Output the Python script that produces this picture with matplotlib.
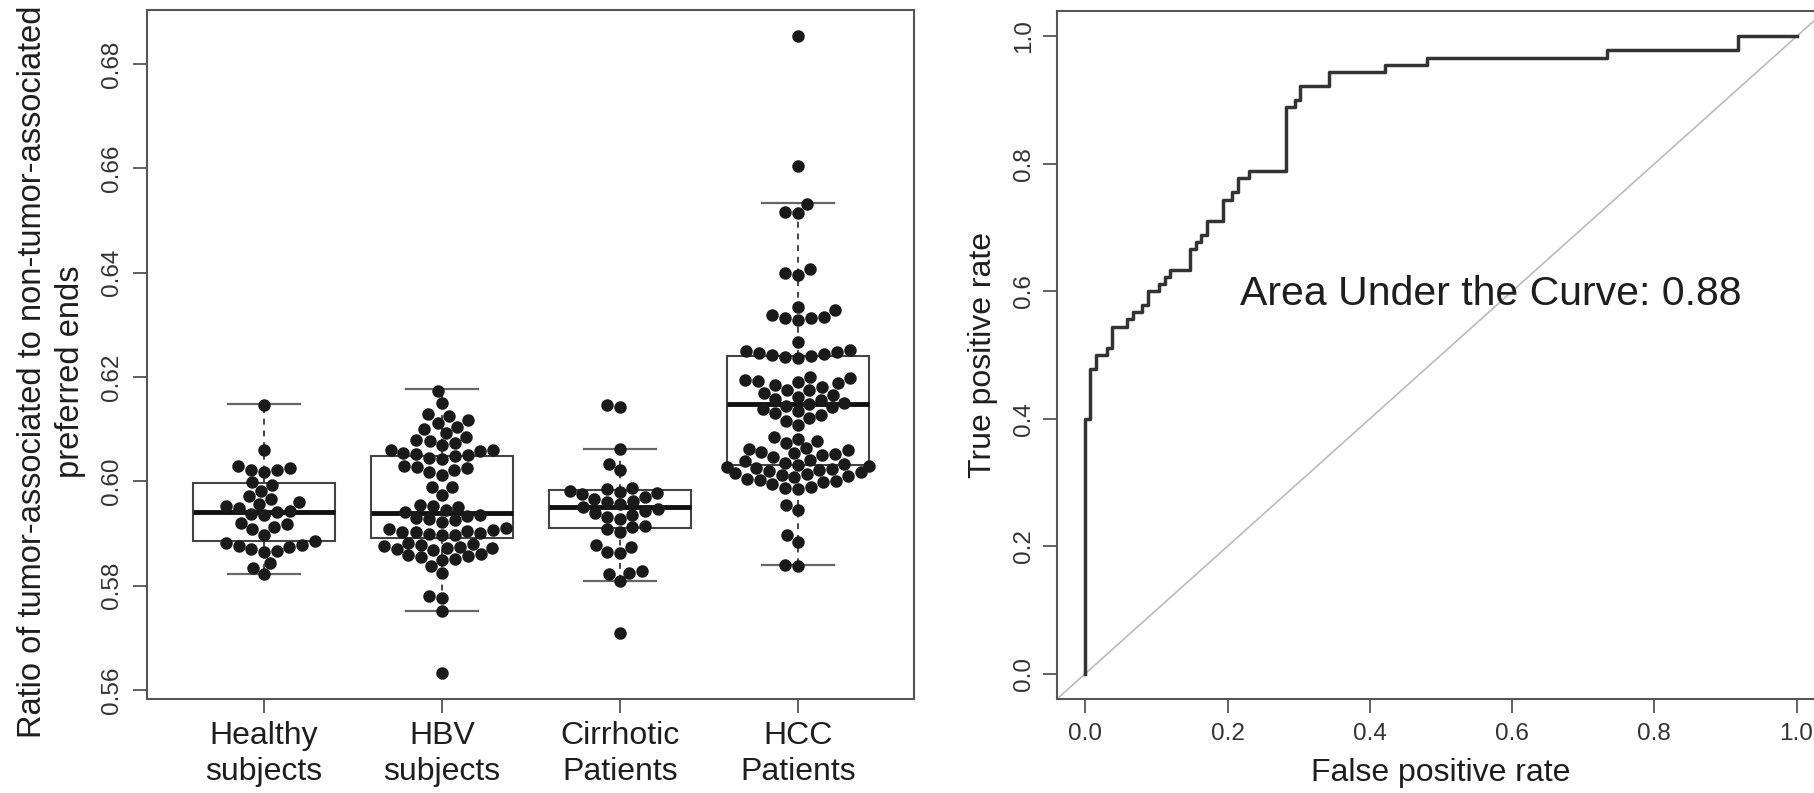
import matplotlib
matplotlib.use("Agg")
import matplotlib.pyplot as plt
import pandas as pd
import seaborn as sns

plt.rcParams['font.family'] = ['Liberation Sans', 'DejaVu Sans']

# -------------------------------------------------
# DATA
# -------------------------------------------------
group_names = ["Healthy\nsubjects", "HBV\nsubjects", "Cirrhotic\nPatients", "HCC\nPatients"]

healthy = [0.6146, 0.6060, 0.6029, 0.6022, 0.6018, 0.6021, 0.6026, 0.5998, 0.5993,
           0.5981, 0.5972, 0.5966, 0.5960, 0.5957, 0.5952, 0.5948, 0.5944, 0.5941,
           0.5938, 0.5935, 0.5921, 0.5918, 0.5912, 0.5908, 0.5897, 0.5885, 0.5882,
           0.5878, 0.5876, 0.5874, 0.5870, 0.5866, 0.5864, 0.5843, 0.5834, 0.5822]

hbv = [0.6173, 0.6150, 0.6129, 0.6125, 0.6118, 0.6112, 0.6105, 0.6100, 0.6093, 0.6085,
       0.6080, 0.6078, 0.6073, 0.6070, 0.6060, 0.6060, 0.6058, 0.6055, 0.6053, 0.6050,
       0.6048, 0.6045, 0.6043, 0.6030, 0.6028, 0.6025, 0.6022, 0.6018, 0.6012, 0.5990,
       0.5989, 0.5974, 0.5955, 0.5953, 0.5950, 0.5945, 0.5942,
       0.5935, 0.5933, 0.5930, 0.5928, 0.5925, 0.5922, 0.5910, 0.5908, 0.5906, 0.5905,
       0.5903, 0.5902, 0.5900, 0.5899, 0.5898, 0.5897, 0.5882, 0.5880, 0.5878, 0.5876,
       0.5875, 0.5873, 0.5872, 0.5870, 0.5868, 0.5860, 0.5858, 0.5856, 0.5854, 0.5852,
       0.5850, 0.5838, 0.5825, 0.5780, 0.5776, 0.5751, 0.5633]

cirrhotic = [0.6147, 0.6143, 0.6062, 0.6034, 0.6022, 0.5988, 0.5985, 0.5982, 0.5980,
             0.5978, 0.5975, 0.5970, 0.5966, 0.5962, 0.5960, 0.5956, 0.5950, 0.5946,
             0.5943, 0.5940, 0.5936, 0.5932, 0.5928, 0.5915, 0.5912, 0.5908, 0.5902,
             0.5878, 0.5875, 0.5865, 0.5862, 0.5828, 0.5825, 0.5822, 0.5808, 0.5710]

hcc = [0.6854, 0.6605, 0.6532, 0.6516, 0.6514, 0.6407, 0.6400, 0.6396, 0.6334, 0.6329,
       0.6318, 0.6315, 0.6314, 0.6313, 0.6310, 0.6267, 0.6252, 0.6250, 0.6248, 0.6246,
       0.6244, 0.6242, 0.6240, 0.6238, 0.6237, 0.6200, 0.6198, 0.6195, 0.6192, 0.6190,
       0.6188, 0.6185, 0.6180, 0.6176, 0.6175, 0.6170, 0.6166, 0.6162, 0.6158, 0.6156,
       0.6150, 0.6148, 0.6145, 0.6142, 0.6138, 0.6135, 0.6131, 0.6128, 0.6122, 0.6116,
       0.6108, 0.6085, 0.6082, 0.6078, 0.6073, 0.6064, 0.6062, 0.6060, 0.6057, 0.6055,
       0.6052, 0.6050, 0.6047, 0.6040, 0.6038, 0.6036, 0.6034, 0.6032, 0.6030, 0.6028,
       0.6026, 0.6024, 0.6022, 0.6020, 0.6018, 0.6016, 0.6014, 0.6012, 0.6010, 0.6008,
       0.6005, 0.6003, 0.6000, 0.5998, 0.5995, 0.5990, 0.5988, 0.5985, 0.5955, 0.5945,
       0.5898, 0.5884, 0.5840, 0.5838]

# box statistics as drawn (low whisker, Q1, median, Q3, high whisker)
whisker_low = [0.5822, 0.5751, 0.5808, 0.5839]
q1 = [0.5886, 0.5892, 0.5911, 0.6032]
medians = [0.5942, 0.5940, 0.5950, 0.6148]
q3 = [0.5996, 0.6048, 0.5984, 0.6240]
whisker_high = [0.6149, 0.6177, 0.6062, 0.6533]

# ROC corners (fpr where the curve rises, tpr reached)
roc_fpr = [0.0, 0.0, 0.0066, 0.0148, 0.030, 0.037, 0.059, 0.067, 0.0795, 0.0877, 0.104,
           0.112, 0.119, 0.1475, 0.156, 0.163, 0.171, 0.193, 0.2066, 0.215, 0.2295,
           0.282, 0.295, 0.302, 0.342, 0.421, 0.481, 0.734, 0.918, 1.0]
roc_tpr = [0.0, 0.400, 0.478, 0.500, 0.511, 0.544, 0.556, 0.567, 0.578, 0.600, 0.611,
           0.622, 0.633, 0.667, 0.678, 0.689, 0.711, 0.744, 0.756, 0.778, 0.789,
           0.889, 0.900, 0.922, 0.944, 0.956, 0.967, 0.978, 1.0, 1.0]
auc = 0.88

TEXT = "#1e1e1e"
AXIS = "#555555"

fig = plt.figure(figsize=(18.14, 7.93), dpi=100)

# =====================================================
# BOXPLOT + BEESWARM
# =====================================================
ax = fig.add_axes([147 / 1814, 94 / 793, 767 / 1814, 689 / 793])

stats = []
for i in range(4):
    stats.append(dict(whislo=whisker_low[i], q1=q1[i], med=medians[i],
                      q3=q3[i], whishi=whisker_high[i], fliers=[]))

ax.bxp(stats, positions=range(4), widths=0.8, capwidths=0.4, patch_artist=True,
       showfliers=False,
       boxprops=dict(facecolor="white", edgecolor="#444444", linewidth=1.5),
       medianprops=dict(color="#111111", linewidth=3.5),
       whiskerprops=dict(color="#444444", linewidth=1.4, linestyle=(0, (3, 3))),
       capprops=dict(color="#666666", linewidth=1.6))

df = pd.DataFrame({
    "group": [group_names[0]] * len(healthy) + [group_names[1]] * len(hbv)
             + [group_names[2]] * len(cirrhotic) + [group_names[3]] * len(hcc),
    "value": healthy + hbv + cirrhotic + hcc,
})
sns.swarmplot(data=df, x="group", y="value", order=group_names, color="#1a1a1a",
              size=9, linewidth=0, ax=ax, zorder=3)

ax.set_xlim(-0.657, 3.652)
ax.set_ylim(0.55827, 0.69035)
ax.set_xticks(range(4))
ax.set_xticklabels(group_names, fontsize=23, color=TEXT, linespacing=1.25)
ax.set_yticks([0.56, 0.58, 0.60, 0.62, 0.64, 0.66, 0.68])
ax.set_yticklabels(["0.56", "0.58", "0.60", "0.62", "0.64", "0.66", "0.68"],
                   rotation=90, va="center", fontsize=17.5, color="#333333")
ax.tick_params(axis="both", length=10, width=1.3, color=AXIS)
ax.tick_params(axis="y", pad=7)
ax.tick_params(axis="x", pad=6)
ax.set_xlabel("")
ax.set_ylabel("")
for s in ax.spines.values():
    s.set_color(AXIS)
    s.set_linewidth(1.5)

ax.text(-0.124, 0.4746,
        "Ratio of tumor-associated to non-tumor-associated\npreferred ends",
        rotation=90, ha="center", va="center", fontsize=23.5, color=TEXT,
        linespacing=1.3, transform=ax.transAxes)

# =====================================================
# ROC
# =====================================================
ax2 = fig.add_axes([1057 / 1814, 94 / 793, 768 / 1814, 688 / 793])

ax2.axline((0, 0), (1, 1), color="#bbbbbb", linewidth=1.2)
ax2.plot(roc_fpr, roc_tpr, drawstyle="steps-post", color="#333333", linewidth=2.5)

ax2.text(0.218, 0.595, f"Area Under the Curve: {auc:.2f}", fontsize=29.5,
         ha="left", va="center", color=TEXT)

ax2.set_xlim(-0.04, 1.04)
ax2.set_ylim(-0.04, 1.04)
ticks = [0.0, 0.2, 0.4, 0.6, 0.8, 1.0]
ax2.set_xticks(ticks)
ax2.set_xticklabels([f"{t:.1f}" for t in ticks], fontsize=17.5, color="#333333")
ax2.set_yticks(ticks)
ax2.set_yticklabels([f"{t:.1f}" for t in ticks], rotation=90, va="center",
                    fontsize=17.5, color="#333333")
ax2.tick_params(axis="both", length=10, width=1.3, color=AXIS)
ax2.tick_params(axis="y", pad=6)
ax2.tick_params(axis="x", pad=7)
for s in ax2.spines.values():
    s.set_color(AXIS)
    s.set_linewidth(1.5)

ax2.text(-0.096, 0.5, "True positive rate", rotation=90, ha="center", va="center",
         fontsize=23, color=TEXT, transform=ax2.transAxes)
ax2.text(0.5, -0.107, "False positive rate", ha="center", va="center",
         fontsize=23, color=TEXT, transform=ax2.transAxes)

fig.savefig("out.png", dpi=100)
